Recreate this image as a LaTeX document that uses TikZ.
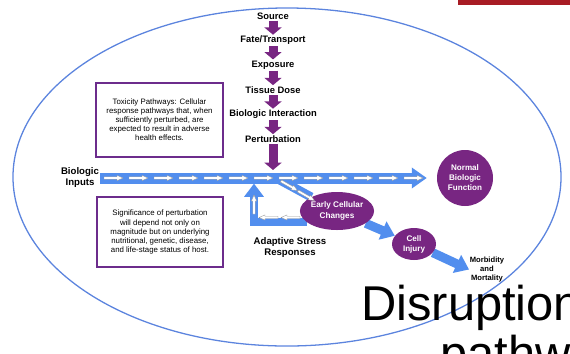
\documentclass[tikz,border=0pt]{standalone}
\usepackage{fontspec}
\setmainfont{Liberation Sans}
\usetikzlibrary{arrows.meta,shapes.geometric,backgrounds}

\definecolor{cellpurple}{RGB}{120,38,130}
\definecolor{boxpurple}{RGB}{108,44,140}
\definecolor{flowblue}{RGB}{82,142,238}
\definecolor{ringblue}{RGB}{92,132,222}
\definecolor{topred}{RGB}{168,28,36}

\begin{document}
\begin{tikzpicture}[x=0.03cm,y=-0.03cm,
		steplbl/.style={font=\fontsize{8}{9.5}\selectfont\bfseries, inner sep=1pt},
		sidelbl/.style={font=\fontsize{8.2}{9.4}\selectfont\bfseries, align=center, inner sep=1pt},
		notebox/.style={draw=boxpurple, line width=1.3pt, align=center, font=\fontsize{6.7}{7.7}\selectfont},
		cell/.style={fill=cellpurple, text=white, align=center, inner sep=0pt, font=\fontsize{6.9}{8.6}\selectfont\bfseries},
		down/.style={draw=cellpurple, line width=0.27cm, -{Triangle[width=0.51cm,length=0.22cm]}},
		band/.style={draw=flowblue, line width=0.33cm, -{Triangle[width=0.6cm,length=0.45cm]}},
		fat/.style={draw=flowblue, line width=0.27cm, -{Triangle[width=0.57cm,length=0.4cm]}},
		inarr/.pic={\draw[gray!80, fill=white, line width=0.3pt] (0,-1.2) -- (13,-1.2) -- (13,-2.6) -- (19,0) -- (13,2.6) -- (13,1.2) -- (0,1.2) -- cycle;}
	]
	\useasboundingbox (0,0) rectangle (570,353);
	
	% red strip at the top
	\fill[topred] (458,0) rectangle (570,5);
	
	% chain from source to perturbation
	\node[steplbl] (src) at (273,16) {Source};
	\node[steplbl] (fate) at (273,40.5) {Fate/Transport};
	\node[steplbl] (expo) at (273,65) {Exposure};
	\node[steplbl] (tissue) at (273,90) {Tissue Dose};
	\node[steplbl] (bioint) at (273,114.5) {Biologic Interaction};
	\node[steplbl] (pert) at (273,139) {Perturbation};
	\coordinate (pdrop) at (273,170);
	
	% the cells
	\node[cell, circle, minimum size=1.68cm] (normal) at (465,178) {Normal\\Biologic\\Function};
	\node[cell, ellipse, minimum width=2.1cm, minimum height=1.14cm, font=\fontsize{7}{9.3}\selectfont\bfseries] (early) at (337,211) {Early Cellular\\Changes};
	\node[cell, ellipse, minimum width=1.32cm, minimum height=0.96cm] (injury) at (414,244) {Cell\\Injury};
	
	% labels
	\node[sidelbl] (binp) at (80,178) {Biologic\\Inputs};
	\node[sidelbl] (adapt) at (290,247.5) {Adaptive Stress\\Responses};
	\node[align=center, inner sep=0.5pt, font=\fontsize{6.5}{7.9}\selectfont\bfseries] (morb) at (487,269.5) {Morbidity\\and\\Mortality};
	\coordinate (split) at (278,179);
	\coordinate (ret) at (254,183.5);
	
	% note boxes
	\node[notebox, minimum width=3.81cm, minimum height=2.22cm] (toxbox) at (159.5,120) {Toxicity Pathways: Cellular\\response pathways that, when\\sufficiently perturbed, are\\expected to result in adverse\\health effects.};
	\node[notebox, minimum width=3.78cm, minimum height=2.1cm] (sigbox) at (160,232) {Significance of perturbation\\will depend not only on\\magnitude but on underlying\\nutritional, genetic, disease,\\and life-stage status of host.};
	
	\begin{scope}[on background layer]
		% outer ring
		\draw[ringblue, line width=1.1pt] (287,177) ellipse [x radius=8.22cm, y radius=5.07cm];
		
		% purple steps
		\draw[down] (src) -- (fate);
		\draw[down] (fate) -- (expo);
		\draw[down] (expo) -- (tissue);
		\draw[down] (tissue) -- (bioint);
		\draw[down] (bioint) -- (pert);
		\draw[down] (pert) -- (pdrop);
		
		% blue flow
		\draw[band, shorten >=0.3cm] (binp.east) -- (normal);
		\draw[draw=flowblue, line width=0.27cm] (split) -- (early);
		\draw[fat, line width=0.24cm, line join=miter] (early.200) -| (ret);
		\draw[fat] (early) -- (injury);
		\draw[fat] (injury) -- (morb.west);
	\end{scope}
	
	% small white arrows inside the flow
	\foreach \x in {104,129,...,404}
		\pic at (\x,178) {inarr};
	\pic[rotate=-30] at (281,181) {inarr};
	\pic[rotate=-30] at (298,191) {inarr};
	\pic[rotate=180] at (300,217.5) {inarr};
	\pic[rotate=180] at (278,217.5) {inarr};
	\pic[rotate=90] at (254,214) {inarr};
	
	% large text
	\node[anchor=base west, inner sep=0pt, font=\fontsize{41.7}{50}\selectfont] (dis) at (361,320) {Disruption};
	\node[anchor=base west, inner sep=0pt, font=\fontsize{41.7}{50}\selectfont] (pathw) at (440,370) {pathways};
\end{tikzpicture}
\end{document}
